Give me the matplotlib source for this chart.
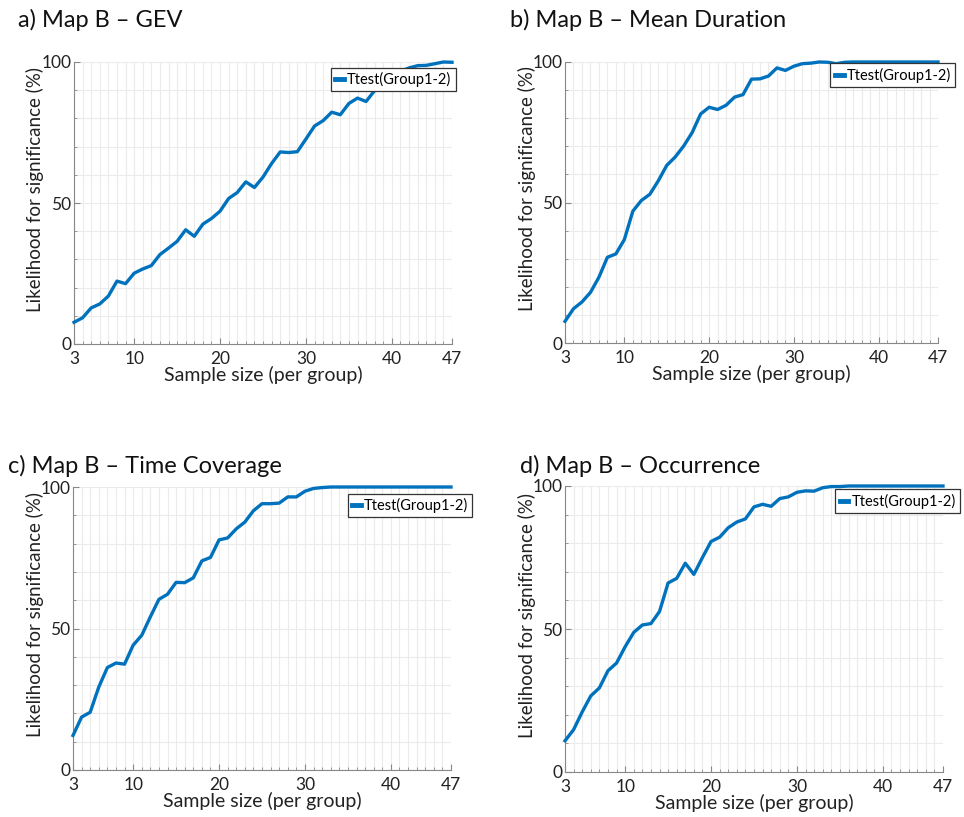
import matplotlib.pyplot as plt
from matplotlib.ticker import MultipleLocator

plt.rcParams['font.family'] = ['Lato', 'DejaVu Sans']

sample_size = list(range(3, 48))

gev = [7.7, 9.3, 12.8, 14.2, 17.0, 22.3, 21.4, 25.1, 26.6, 27.8, 31.7, 34.0, 36.4,
       40.5, 38.2, 42.5, 44.5, 47.1, 51.6, 53.7, 57.5, 55.5, 59.2, 64.0, 68.1, 67.9,
       68.2, 72.7, 77.3, 79.2, 82.2, 81.3, 85.3, 87.2, 86.0, 89.9, 94.1, 95.5, 96.7,
       97.9, 98.7, 98.8, 99.4, 100.0, 99.9]

mean_duration = [7.7, 12.2, 14.6, 18.0, 23.4, 30.5, 31.7, 36.8, 46.9, 50.7, 52.9,
                 57.7, 63.2, 66.2, 70.1, 74.9, 81.5, 83.9, 83.1, 84.6, 87.5, 88.4,
                 93.9, 94.0, 95.0, 97.9, 97.0, 98.5, 99.4, 99.6, 100.0, 99.9, 99.4,
                 99.9, 100, 100, 100, 100, 100, 100, 100, 100, 100, 100, 100]

time_coverage = [12.2, 18.7, 20.4, 29.3, 36.2, 37.8, 37.4, 44.1, 47.6, 54.1, 60.3,
                 62.1, 66.3, 66.2, 67.9, 73.9, 75.1, 81.3, 82.0, 85.2, 87.6, 91.6,
                 94.1, 94.1, 94.3, 96.5, 96.5, 98.5, 99.5, 99.8, 100, 100, 100, 100,
                 100, 100, 100, 100, 100, 100, 100, 100, 100, 100, 100]

occurrence = [10.9, 14.8, 21.0, 26.6, 29.4, 35.4, 38.1, 43.8, 48.8, 51.4, 51.9,
              56.1, 66.1, 67.7, 73.0, 69.1, 75.0, 80.6, 82.1, 85.4, 87.4, 88.5,
              92.7, 93.6, 92.9, 95.6, 96.2, 97.8, 98.3, 98.2, 99.4, 99.8, 99.8,
              100, 100, 100, 100, 100, 100, 100, 100, 100, 100, 100, 100]

titles = ["a) Map B \u2013 GEV", "b) Map B \u2013 Mean Duration",
          "c) Map B \u2013 Time Coverage", "d) Map B \u2013 Occurrence"]
series = [gev, mean_duration, time_coverage, occurrence]
x_ticks = [3, 10, 20, 30, 40, 47]
y_ticks = [0, 50, 100]
legend_label = "Ttest(Group1-2)"

W, H = 964, 817
# axes boxes in pixels: left, right, top, bottom
boxes = [(74, 452, 62, 344), (565, 938, 62, 343),
         (73, 451, 487, 770), (565, 943, 486, 772)]
title_pos = [(18, 20), (510, 20), (8, 466), (520, 466)]
ylabel_x = [35, 527, 35, 527]
legend_anchor = [(1.01, 0.98), (1.046, 0.995), (1.056, 0.977), (1.045, 0.988)]

fig = plt.figure(figsize=(W / 100, H / 100), dpi=100)

for i in range(4):
    l, r, t, b = boxes[i]
    ax = fig.add_axes([l / W, 1 - b / H, (r - l) / W, (b - t) / H])
    ax.plot(sample_size, series[i], color="#0072BD", lw=2.4, label=legend_label,
            solid_joinstyle="round", clip_on=False, zorder=3)
    ax.set_xlim(3, 47)
    ax.set_ylim(0, 100)
    ax.set_xticks(x_ticks)
    ax.set_yticks(y_ticks)
    ax.xaxis.set_minor_locator(MultipleLocator(1))
    ax.yaxis.set_minor_locator(MultipleLocator(10))
    ax.grid(True, which="both", color="#ebebeb", lw=0.8)
    ax.set_axisbelow(True)
    for s in ["top", "right"]:
        ax.spines[s].set_visible(False)
    for s in ["left", "bottom"]:
        ax.spines[s].set_color("#888888")
        ax.spines[s].set_linewidth(0.8)
    ax.tick_params(which="both", direction="in", color="#888888", labelsize=12.5,
                   labelcolor="#222222")
    ax.tick_params(axis="x", pad=5)
    ax.tick_params(axis="y", pad=2)
    ax.tick_params(which="major", length=4)
    ax.tick_params(which="minor", length=2.5)
    ax.set_xlabel("Sample size (per group)", fontsize=14, labelpad=-1, color="#222222")
    leg = ax.legend(loc="upper right", bbox_to_anchor=legend_anchor[i], fontsize=10.5,
                    handlelength=0.6, handletextpad=0.2, borderpad=0.3,
                    borderaxespad=0, fancybox=False, framealpha=1)
    leg.get_frame().set_edgecolor("#333333")
    leg.get_frame().set_linewidth(0.9)
    for h in leg.get_lines():
        h.set_linewidth(3.5)
    fig.text(title_pos[i][0] / W, 1 - title_pos[i][1] / H, titles[i], fontsize=17,
             ha="left", va="center", color="#111111")
    fig.text(ylabel_x[i] / W, 1 - ((t + b) / 2 - 14) / H, "Likelihood for significance (%)",
             rotation=90, fontsize=13.5, ha="center", va="center", color="#222222")

fig.savefig("out.png", dpi=100)
